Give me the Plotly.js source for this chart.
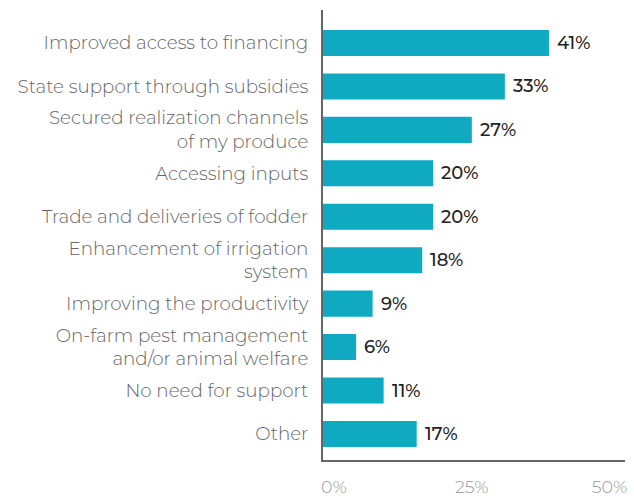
<!DOCTYPE html>
<html><head><meta charset="utf-8">
<script src="https://cdn.plot.ly/plotly-3.0.1.min.js"></script>
<style>html,body{margin:0;padding:0;background:#fff}#c{width:634px;height:498px}</style>
</head><body><div id="c"></div>
<script>
const categories = [
  "Improved access to financing",
  "State support through subsidies",
  "Secured realization channels<br>of my produce",
  "Accessing inputs",
  "Trade and deliveries of fodder",
  "Enhancement of irrigation<br>system",
  "Improving the productivity",
  "On-farm pest management<br>and/or animal welfare",
  "No need for support",
  "Other"
];
const values = [41, 33, 27, 20, 20, 18, 9, 6, 11, 17];
const valueLabels = ["41%", "33%", "27%", "20%", "20%", "18%", "9%", "6%", "11%", "17%"];
const tickVals = [0, 25, 50];
const tickText = ["0%", "25%", "50%"];

const FONT = "Montserrat, Lato, 'Open Sans', sans-serif";

const trace = {
  type: "bar", orientation: "h",
  x: values, y: categories,
  marker: {color: "#0fa9c1"},
  width: 0.6,
  hoverinfo: "none"
};

const annotations = values.map((v, i) => ({
  x: v, y: categories[i], xref: "x", yref: "y",
  text: valueLabels[i], showarrow: false,
  xanchor: "left", xshift: 6,
  font: {family: FONT, size: 18, color: "#222", weight: 500}
}));

const layout = {
  width: 634, height: 498,
  margin: {l: 323, r: 9, t: 10, b: 38},
  paper_bgcolor: "#fff", plot_bgcolor: "#fff",
  showlegend: false,
  font: {family: FONT},
  xaxis: {
    range: [0, 54.8], tickvals: tickVals, ticktext: tickText,
    showgrid: false, zeroline: false, showline: true,
    linecolor: "#666", linewidth: 2, ticks: "",
    tickfont: {family: FONT, size: 17.5, color: "#999", weight: 300},
    ticklabelshift: 11, ticklabelstandoff: 10, fixedrange: true
  },
  yaxis: {
    type: "category",
    range: [9.6, -0.76],
    showgrid: false, zeroline: false, showline: true,
    linecolor: "#666", linewidth: 2, ticks: "",
    tickfont: {family: FONT, size: 18.3, color: "#666", weight: 300},
    ticklabelstandoff: 9, fixedrange: true
  },
  annotations: annotations
};

Plotly.newPlot("c", [trace], layout, {displayModeBar: false, staticPlot: true});
</script></body></html>
